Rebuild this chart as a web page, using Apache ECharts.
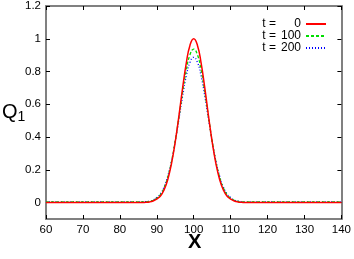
<!DOCTYPE html>
<html><head><meta charset="utf-8">
<script src="https://cdn.jsdelivr.net/npm/echarts@6/dist/echarts.min.js"></script>
<style>html,body{margin:0;padding:0;background:#fff}#c{width:354px;height:259px}</style>
</head><body><div id="c"></div>
<script>
var xs = [60, 84, 85, 86, 87, 88, 89, 90, 91, 92, 93, 94, 95, 96, 97, 98, 99, 100, 101, 102, 103, 104, 105, 106, 107, 108, 109, 110, 111, 112, 113, 114, 115, 116, 140];
var q_t0 = [0, 0, 0, 0.0004, 0.002, 0.004, 0.010, 0.022, 0.040, 0.079, 0.143, 0.240, 0.371, 0.530, 0.700, 0.853, 0.961, 1.0, 0.961, 0.853, 0.700, 0.530, 0.371, 0.240, 0.143, 0.079, 0.040, 0.022, 0.010, 0.004, 0.002, 0.0004, 0, 0, 0];
var q_t100 = [0.004, 0.004, 0.004, 0.004, 0.005, 0.008, 0.014, 0.027, 0.049, 0.091, 0.157, 0.252, 0.376, 0.523, 0.675, 0.810, 0.903, 0.937, 0.903, 0.810, 0.675, 0.523, 0.376, 0.252, 0.157, 0.091, 0.049, 0.027, 0.014, 0.008, 0.005, 0.004, 0.004, 0.004, 0.004];
var q_t200 = [0.004, 0.004, 0.004, 0.005, 0.006, 0.009, 0.016, 0.031, 0.054, 0.097, 0.163, 0.255, 0.373, 0.510, 0.650, 0.773, 0.857, 0.887, 0.857, 0.773, 0.650, 0.510, 0.373, 0.255, 0.163, 0.097, 0.054, 0.031, 0.016, 0.009, 0.006, 0.005, 0.004, 0.004, 0.004];
var legendTimes = ['0', '100', '200'];
var yTicks = [0, 0.2, 0.4, 0.6, 0.8, 1, 1.2];

function pairs(v){ return xs.map(function(x,i){ return [x, v[i]]; }); }
var names = legendTimes.map(function(t){ return 't = ' + t; });
var chart = echarts.init(document.getElementById('c'), null, {renderer:'canvas'});
var axisCol = '#808080';
var font = 'Liberation Sans, Arial, sans-serif';
function xAx(pos, lbl){
  return {type:'value', position:pos, min:60, max:140, interval:10,
    axisLine:{show:true, onZero:false, lineStyle:{color:axisCol, width:2}},
    axisTick:{show:true, inside:true, length:4, lineStyle:{color:'#000', width:1}},
    axisLabel:{show:lbl, color:'#000', fontSize:11.5, fontFamily:font, margin:5},
    splitLine:{show:false}};
}
function yAx(pos, lbl){
  return {type:'value', position:pos, min:-0.1, max:1.2,
    axisLine:{show:true, onZero:false, lineStyle:{color:axisCol, width:2}},
    axisTick:{show:true, inside:true, length:4, customValues:yTicks, lineStyle:{color:'#000', width:1}},
    axisLabel:{show:lbl, color:'#000', fontSize:11.5, fontFamily:font, margin:5, customValues:yTicks,
      formatter:function(v){ return String(Math.round(v*10)/10); }},
    splitLine:{show:false}};
}
var colors = ['#ff0000', '#00dd00', '#0000ff'];
var types = ['solid', [3,2], [1,2]];
var data = [q_t0, q_t100, q_t200];
chart.setOption({
  animation:false,
  grid:{left:46, right:10, top:6, bottom:40},
  xAxis:[xAx('bottom', true), xAx('top', false)],
  yAxis:[yAx('left', true), yAx('right', false)],
  legend:{orient:'vertical', right:22, top:13, itemWidth:20, itemHeight:6, itemGap:0, align:'right',
    itemStyle:{opacity:0},
    textStyle:{color:'#000', fontSize:12, fontFamily:font, lineHeight:11.5, padding:[0,0,0,0],
      rich:{a:{fontSize:12, fontFamily:font, color:'#000', lineHeight:11.5},
            b:{fontSize:12, fontFamily:font, color:'#000', width:25, align:'right', lineHeight:11.5}}},
    formatter:function(n){ var t = n.split('= ')[1]; return '{a|t =}{b|' + t + '}'; },
    data:names},
  series: data.map(function(v,i){
    return {name:names[i], type:'line', data:pairs(v), symbol:'none', smooth:0.5,
      lineStyle:{color:colors[i], width:i === 0 ? 1.5 : 1.3, type:types[i]}, itemStyle:{color:colors[i]}, z:3-i};
  }),
  graphic:[
    {type:'text', left:188, top:232, style:{text:'X', fontSize:20, fontWeight:'bold', fontFamily:font, fill:'#000'}},
    {type:'text', left:2, top:102, style:{text:'Q{s|1}', fontSize:20, fontFamily:font, fill:'#000',
      rich:{s:{fontSize:14, fontFamily:font, fill:'#000', padding:[10,0,0,0]}}}}
  ]
});
</script></body></html>
